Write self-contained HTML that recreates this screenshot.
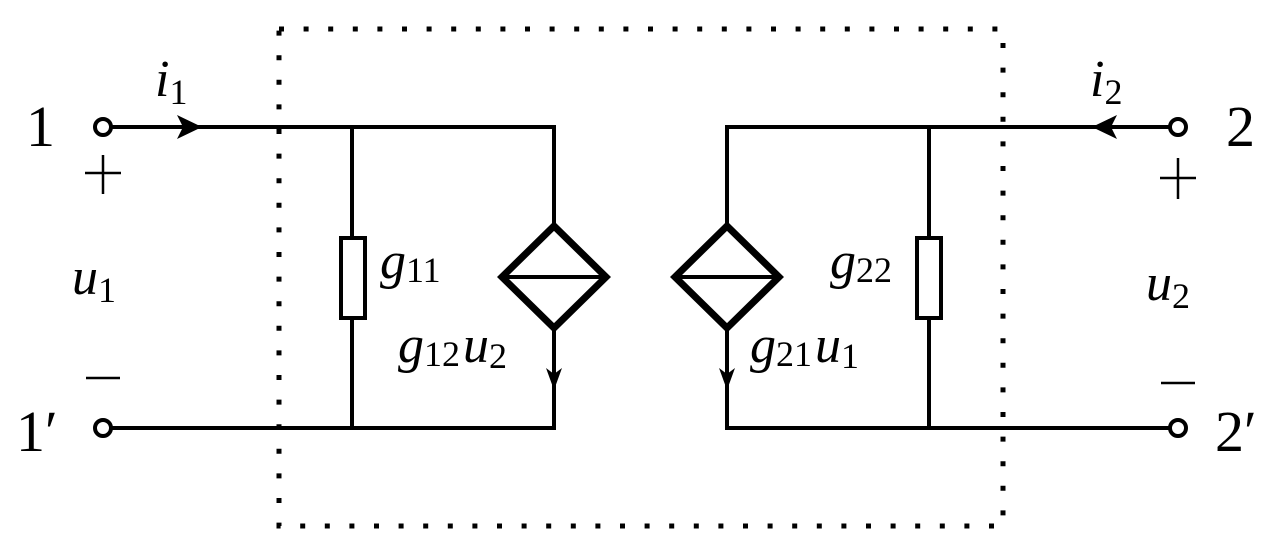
<!DOCTYPE html>
<html><head><meta charset="utf-8"><style>
html,body{margin:0;padding:0;background:#fff;}
svg{display:block;}
text{font-family:"Liberation Serif",serif;fill:#000;}
.it{font-style:italic;}
</style></head><body>
<svg width="1280" height="535" viewBox="0 0 1280 535" xmlns="http://www.w3.org/2000/svg">
<g fill="none" stroke="#000" stroke-linecap="butt">
  <rect x="279" y="29" width="724" height="497" stroke-width="5" stroke-dasharray="5 19.6"/>
  <path d="M111 127 H554 V226 M554 328 V428 H111" stroke-width="4"/>
  <path d="M352 127 V236 M352 320 V428" stroke-width="4"/>
  <rect x="341" y="238" width="24" height="80" stroke-width="4"/>
  <path d="M554 226 L606 277 L554 328 L502 277 Z" stroke-width="7"/>
  <path d="M502 277 H606" stroke-width="4"/>
  <path d="M1170 127 H727 V226 M727 328 V428 H1170" stroke-width="4"/>
  <path d="M929 127 V236 M929 320 V428" stroke-width="4"/>
  <rect x="917" y="238" width="24" height="80" stroke-width="4"/>
  <path d="M727 226 L779 277 L727 328 L675 277 Z" stroke-width="7"/>
  <path d="M675 277 H779" stroke-width="4"/>
  <circle cx="103" cy="127" r="8" stroke-width="4"/>
  <circle cx="103" cy="428" r="8" stroke-width="4"/>
  <circle cx="1178" cy="127" r="8" stroke-width="4"/>
  <circle cx="1178" cy="428" r="8" stroke-width="4"/>
  <!-- +/- signs -->
  <path d="M85 173 H121 M103 155 V194" stroke-width="2.5"/>
  <path d="M86 378 H120" stroke-width="2.5"/>
  <path d="M1160 178 H1196 M1178 158 V199" stroke-width="2.5"/>
  <path d="M1161 383 H1195" stroke-width="2.5"/>
</g>
<g fill="#000">
  <path d="M202 127 L177 115 L183 127 L177 139 Z"/>
  <path d="M1092 127 L1117 115 L1111 127 L1117 139 Z"/>
  <path d="M554 390 L546 368 L554 374 L562 368 Z"/>
  <path d="M727 390 L719 368 L727 374 L735 368 Z"/>
</g>
<g font-size="58">
  <text x="26" y="146">1</text>
  <text x="16" y="451">1′</text>
  <text x="1226" y="146">2</text>
  <text x="1215" y="451">2′</text>
</g>
<g font-size="52">
  <text class="it" x="155" y="96">i<tspan font-size="36" font-style="normal" dy="8">1</tspan></text>
  <text class="it" x="1090" y="96">i<tspan font-size="36" font-style="normal" dy="8">2</tspan></text>
  <text class="it" x="72" y="294">u<tspan font-size="36" font-style="normal" dy="8">1</tspan></text>
  <text class="it" x="1146" y="300">u<tspan font-size="36" font-style="normal" dy="8">2</tspan></text>
  <text class="it" x="380" y="278">g<tspan font-size="36" font-style="normal" dy="4">11</tspan></text>
  <text class="it" x="830" y="278">g<tspan font-size="36" font-style="normal" dy="4">22</tspan></text>
  <text class="it" x="398" y="362">g<tspan font-size="36" font-style="normal" dy="4">12</tspan><tspan dy="-4" dx="3">u</tspan><tspan font-size="36" font-style="normal" dy="6">2</tspan></text>
  <text class="it" x="750" y="362">g<tspan font-size="36" font-style="normal" dy="4">21</tspan><tspan dy="-4" dx="3">u</tspan><tspan font-size="36" font-style="normal" dy="6">1</tspan></text>
</g>
</svg>
</body></html>
